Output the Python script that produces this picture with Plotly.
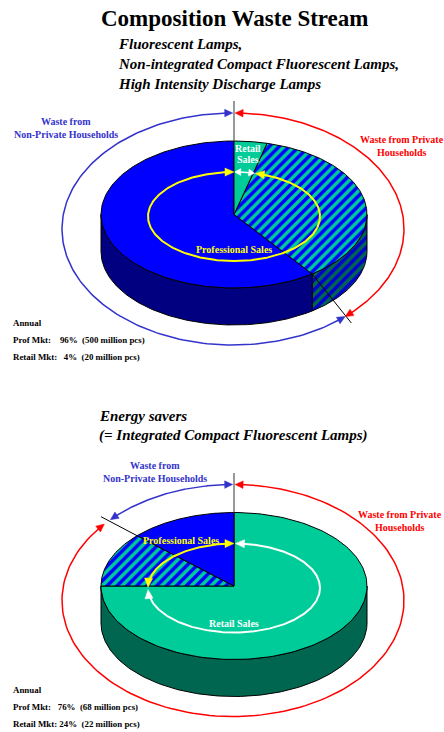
import numpy as np
import plotly.graph_objects as go

# ---- data (% of the pie, clockwise from 12 o'clock)
top_slices = ["Retail Sales", "Professional, private", "Professional, non-private"]
top_shares = [4, 36, 60]
bottom_slices = ["Retail Sales", "Professional, private", "Professional, non-private"]
bottom_shares = [75, 12, 13]
title = "Composition Waste Stream"
top_sub = ["Fluorescent Lamps,", "Non-integrated Compact Fluorescent Lamps,", "High Intensity Discharge Lamps"]
bottom_sub = ["Energy savers", "(= Integrated Compact Fluorescent Lamps)"]
top_notes = ["Annual", "Prof Mkt:\u00a0\u00a0\u00a0 96%\u00a0 (500 million pcs)", "Retail Mkt:\u00a0\u00a0 4%\u00a0 (20 million pcs)"]
bottom_notes = ["Annual", "Prof Mkt:\u00a0\u00a0 76%\u00a0 (68 million pcs)", "Retail Mkt: 24%\u00a0 (22 million pcs)"]

W, H = 444, 732
GREEN, BLUE, DBLUE, DGREEN = "#00CC99", "#0000FF", "#000080", "#006650"
ABLUE, RED, YEL = "#3333CC", "#FF0000", "#FFFF00"
CX, RX, RY, DEPTH = 234, 133, 73.5, 37
ORX, ORY = 171, 116
IRX, IRY = 86, 44.5

fig = go.Figure()


def pt(cx, cy, rx, ry, deg):
    t = np.radians(deg)
    return cx + rx * np.sin(t), cy - ry * np.cos(t)


def path(cx, cy, rx, ry, a, b, n=160):
    t = np.linspace(a, b, n)
    return pt(cx, cy, rx, ry, t)


def poly(x, y, fill=None, pattern=None, line="black", lw=1):
    kw = dict(fillpattern=pattern) if pattern else dict(fillcolor=fill)
    fig.add_trace(go.Scatter(x=list(x), y=list(y), mode="lines", fill="toself",
                             line=dict(color=line, width=lw), showlegend=False,
                             hoverinfo="skip", **kw))


def line(x, y, color="black", lw=1):
    fig.add_trace(go.Scatter(x=list(x), y=list(y), mode="lines",
                             line=dict(color=color, width=lw), showlegend=False,
                             hoverinfo="skip"))


def hatch(bg, fg):
    return dict(shape="/", bgcolor=bg, fgcolor=fg, fgopacity=1, fillmode="replace",
                size=7, solidity=0.5)


def wedge(cy, a, b, **kw):
    x, y = path(CX, cy, RX, RY, a, b)
    poly(np.r_[CX, x, CX], np.r_[cy, y, cy], **kw)


def wall(cy, a, b, **kw):
    x, y = path(CX, cy, RX, RY, a, b)
    poly(np.r_[x, x[::-1], x[0]], np.r_[y, y[::-1] + DEPTH, y[0]], **kw)


def arrow_arc(cx, cy, rx, ry, a, b, color, lw, hl=8, hw=7.5, head_start=False):
    """Arc from angle a to b with a head at b (and optionally at a)."""
    sgn = np.sign(b - a)
    dl = np.degrees(hl * 0.6 / ((rx + ry) / 2))
    x, y = path(cx, cy, rx, ry, a + (dl * sgn if head_start else 0), b - dl * sgn)
    line(x, y, color, lw)
    for tip, s in [(b, sgn)] + ([(a, -sgn)] if head_start else []):
        tx, ty = pt(cx, cy, rx, ry, tip)
        bx, by = pt(cx, cy, rx, ry, tip - s * 2)
        d = np.array([tx - bx, ty - by])
        d /= np.hypot(*d)
        n = np.array([-d[1], d[0]])
        base = np.array([tx, ty]) - d * hl
        p1, p2 = base + n * hw / 2, base - n * hw / 2
        poly([tx, p1[0], p2[0], tx], [ty, p1[1], p2[1], ty], fill=color, line=color, lw=0.5)


# ---------------- upper pie
cy = 214.5
edge1 = top_shares[0] * 3.6
edge2 = (top_shares[0] + top_shares[1]) * 3.6
wall(cy, 90, edge2, pattern=hatch(DGREEN, "#0000CC"))
wall(cy, edge2, 270, fill=DBLUE)
wedge(cy, edge2, 360, fill=BLUE)
wedge(cy, edge1, edge2, pattern=hatch(GREEN, BLUE))
wedge(cy, 0, edge1, fill=GREEN)
line([CX, CX], [101, cy - RY], "#555555", 1.2)
ocy = 229
osplit = 139
ex, ey = pt(CX, cy, RX, RY, edge2)
ox, oy = pt(CX, ocy, ORX, ORY, osplit)
line([ex, ex + (ox - ex) * 1.15], [ey, ey + (oy - ey) * 1.15], "black", 1)
arrow_arc(CX - 1, ocy, ORX, ORY, 0.7, osplit, RED, 1.5, head_start=True)
arrow_arc(CX - 1, ocy, ORX, ORY, 359.9, osplit, ABLUE, 1.5, head_start=True)
icy = 216.5
arrow_arc(CX, icy, IRX, IRY, 180, 360, YEL, 2, hl=9, hw=8)
arrow_arc(CX, icy, IRX, IRY, 180, edge1, YEL, 2, hl=9, hw=8)
arrow_arc(CX, icy, IRX, IRY, 0.5, edge1 - 0.5, "#FFFFFF", 1.5, hl=6, hw=7, head_start=True)

# ---------------- lower pie
cy = 586
e1 = bottom_shares[0] * 3.6
e2 = (bottom_shares[0] + bottom_shares[1]) * 3.6
wall(cy, 90, 270, fill=DGREEN)
wedge(cy, 0, e1, fill=GREEN)
wedge(cy, e1, e2, pattern=hatch(GREEN, BLUE))
wedge(cy, e2, 360, fill=BLUE)
line([CX, CX], [473, cy - RY], "#555555", 1.2)
ocy = 600.5
ox, oy = pt(CX, ocy, ORX, ORY, e2)
px, py = pt(CX, cy, RX, RY, e2)
line([px, px + (ox - px) * 1.3], [py, py + (oy - py) * 1.3], "black", 1)
arrow_arc(CX - 1, ocy, ORX, ORY, 0.7, e2 - 2, RED, 1.5, head_start=True)
arrow_arc(CX - 1, ocy, ORX, ORY, 359.9, e2 + 1, ABLUE, 1.5, head_start=True)
icy = 588
mid = (e1 + 360) / 2
arrow_arc(CX, icy, IRX, IRY, mid, 360, YEL, 2, hl=9, hw=8)
arrow_arc(CX, icy, IRX, IRY, mid, e1 + 1, YEL, 2, hl=9, hw=8)
arrow_arc(CX, icy, IRX, IRY, e1 / 2, e1 - 2, "#FFFFFF", 2, hl=9, hw=8)
arrow_arc(CX, icy, IRX, IRY, e1 / 2, 1, "#FFFFFF", 2, hl=9, hw=8)


# ---------------- text
def txt(x, y, s, size, color="black", anchor="center", style="normal"):
    fig.add_annotation(x=x, y=y, text=s, showarrow=False, xanchor=anchor, yanchor="middle",
                       xref="x", yref="y",
                       font=dict(family="Liberation Serif", size=size, color=color,
                                 weight="bold", style=style))


txt(235, 18, title, 23)
for yy, s in zip([44, 64, 84], top_sub):
    txt(116, yy, s, 15, anchor="left", style="italic")
for yy, s in zip([416, 435], bottom_sub):
    txt(97, yy, s, 15, anchor="left", style="italic")

LBL = 10
txt(66, 121, "Waste from", LBL, ABLUE)
txt(66, 134, "Non-Private Households", LBL, ABLUE)
txt(402, 139, "Waste from Private", LBL, RED)
txt(402, 152, "Households", LBL, RED)
txt(248, 148, "Retail", LBL, "white")
txt(248, 159, "Sales", LBL, "white")
txt(234, 249, "Professional Sales", LBL, YEL)

txt(155, 465, "Waste from", LBL, ABLUE)
txt(155, 478, "Non-Private Households", LBL, ABLUE)
txt(400, 514, "Waste from Private", LBL, RED)
txt(400, 527, "Households", LBL, RED)
txt(181, 540, "Professional Sales", LBL, YEL)
txt(234, 623, "Retail Sales", LBL, "white")

for yy, s in zip([323, 340, 357], top_notes):
    txt(11, yy, s, 8.9, anchor="left")
for yy, s in zip([689.5, 707, 724], bottom_notes):
    txt(11, yy, s, 8.9, anchor="left")

fig.update_layout(width=W, height=H, margin=dict(l=0, r=0, t=0, b=0), showlegend=False,
                  paper_bgcolor="white", plot_bgcolor="white",
                  xaxis=dict(range=[0, W], visible=False, fixedrange=True),
                  yaxis=dict(range=[H, 0], visible=False, fixedrange=True))
fig.write_html("out.html", config=dict(displayModeBar=False),
               post_script="document.body.style.margin='0';")
